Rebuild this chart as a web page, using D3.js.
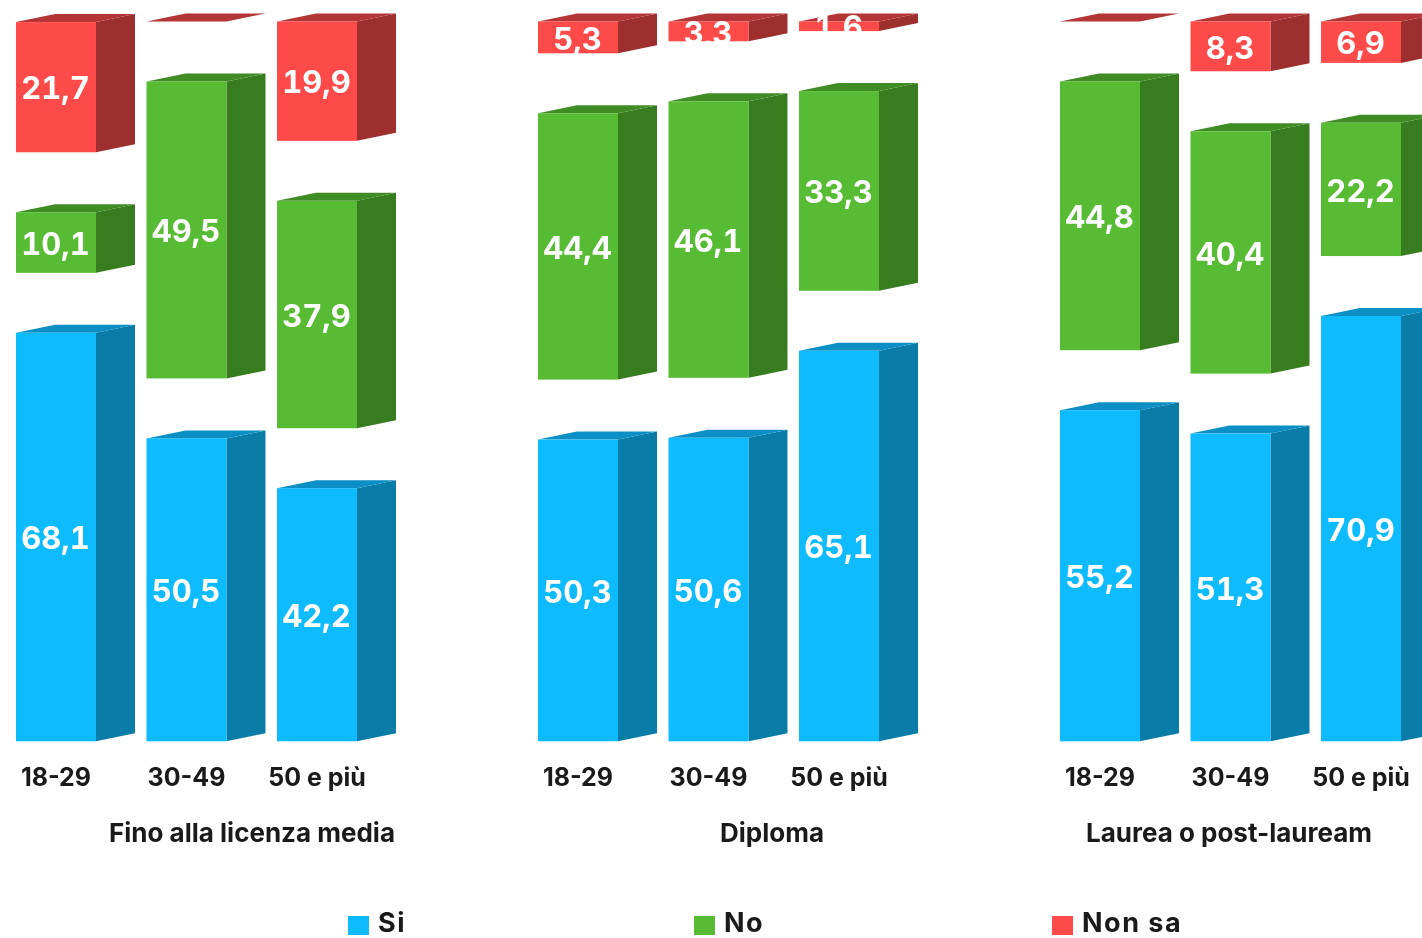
<!DOCTYPE html>
<html lang="it">
<head>
<meta charset="utf-8">
<title>Si, No, Non sa per istruzione ed età</title>
<script src="https://cdn.jsdelivr.net/npm/d3@7"></script>
<style>
html,body{margin:0;padding:0;background:#fff;overflow:hidden}
svg{display:block;filter:blur(.5px)}
text{font-family:Inter,"Noto Sans",sans-serif}
.value{font-variant-numeric:tabular-nums}
</style>
</head>
<body>
<svg id="chart" width="1422" height="938"></svg>
<script>
const educationGroups = ["Fino alla licenza media", "Diploma", "Laurea o post-lauream"];
const ageGroups = ["18-29", "30-49", "50 e più"];
const seriesNames = ["Si", "No", "Non sa"];
const siValues    = [68.1, 50.5, 42.2, 50.3, 50.6, 65.1, 55.2, 51.3, 70.9];
const noValues    = [10.1, 49.5, 37.9, 44.4, 46.1, 33.3, 44.8, 40.4, 22.2];
const nonSaValues = [21.7, 0, 19.9, 5.3, 3.3, 1.6, 0, 8.3, 6.9];
const spacerValue = 10;   // empty band the original stacks between segments
const axisMax = 120;

const W = 1422, H = 938;
const svg = d3.select("#chart");

// slots: three bars per group with one empty slot between groups
const slots = [];
educationGroups.forEach((g, gi) => {
  ageGroups.forEach(a => slots.push(g + "|" + a));
  if (gi < educationGroups.length - 1) slots.push("gap" + gi);
});
const x = d3.scaleBand().domain(slots).range([16, 1401]).paddingInner(0.387).paddingOuter(0);
const y = d3.scaleLinear().domain([0, axisMax]).range([741.3, 21.5]);

const rows = [];
educationGroups.forEach((g, gi) => ageGroups.forEach((a, ai) => {
  const i = gi * ageGroups.length + ai;
  rows.push({slot: g + "|" + a, Si: siValues[i], gapA: spacerValue, No: noValues[i], gapB: spacerValue, "Non sa": nonSaValues[i]});
}));
const stack = d3.stack().keys(["Si", "gapA", "No", "gapB", "Non sa"])(rows);

const palette = {
  "Si":     {front: "#0FBBFF", side: "#0A7CA8", top: "#0C8FC4"},
  "No":     {front: "#57BC33", side: "#387C20", top: "#3F8C25"},
  "Non sa": {front: "#FF4A4A", side: "#9E2F2F", top: "#B33535"}
};
const depthX = 39, depthY = 8;
const poly = pts => pts.map(p => p.join(",")).join(" ");

const bars = svg.append("g");
stack.filter(s => seriesNames.includes(s.key)).forEach(s => {
  const c = palette[s.key];
  const g = bars.append("g").selectAll("g").data(s).join("g");
  const L = d => x(d.data.slot), R = d => x(d.data.slot) + x.bandwidth();
  g.append("polygon").attr("fill", c.side).attr("points", d => poly([
    [R(d), y(d[1])], [R(d) + depthX, y(d[1]) - depthY], [R(d) + depthX, y(d[0]) - depthY], [R(d), y(d[0])]
  ]));
  g.append("polygon").attr("fill", c.top).attr("points", d => poly([
    [L(d), y(d[1])], [L(d) + depthX, y(d[1]) - depthY], [R(d) + depthX, y(d[1]) - depthY], [R(d), y(d[1])]
  ]));
  g.append("rect").attr("fill", c.front)
    .attr("x", d => L(d)).attr("y", d => y(d[1]))
    .attr("width", x.bandwidth()).attr("height", d => y(d[0]) - y(d[1]));
});

const labels = svg.append("g");
stack.filter(s => seriesNames.includes(s.key)).forEach(s => {
  labels.append("g").selectAll("text").data(s.filter(d => d[1] - d[0] > 0)).join("text")
    .attr("class", "value")
    .attr("x", d => x(d.data.slot) + x.bandwidth() / 2 - 0.5)
    .attr("y", d => (y(d[0]) + y(d[1])) / 2 + 1)
    .attr("dy", "0.36em")
    .attr("text-anchor", "middle")
    .attr("fill", "#fff")
    .attr("font-size", 31)
    .attr("font-weight", 700)
    .text(d => String(+(d[1] - d[0]).toFixed(1)).replace(".", ","));
});

// age axis
const axis = d3.axisBottom(x)
  .tickValues(slots.filter(k => k.includes("|")))
  .tickFormat(k => k.split("|")[1])
  .tickSize(0).tickPadding(27);
const ax = svg.append("g").attr("transform", "translate(0,741)").call(axis);
ax.select(".domain").remove();
ax.selectAll("text").attr("font-family", 'Inter,"Noto Sans",sans-serif').attr("font-size", 25).attr("font-weight", 700).attr("fill", "#1a1a1a");

// group titles
const titleX = [252, 772, 1229];
svg.append("g").selectAll("text").data(educationGroups).join("text")
  .attr("x", (d, i) => titleX[i]).attr("y", 842)
  .attr("text-anchor", "middle").attr("font-size", 26).attr("font-weight", 700).attr("fill", "#1a1a1a")
  .text(d => d);

// legend
const legendX = [348, 694, 1052];
const lg = svg.append("g").selectAll("g").data(seriesNames).join("g")
  .attr("transform", (d, i) => `translate(${legendX[i]},916)`);
lg.append("rect").attr("width", 21).attr("height", 19).attr("fill", d => palette[d].front);
lg.append("text").attr("x", 30).attr("y", 16).attr("font-size", 27).attr("font-weight", 700).attr("letter-spacing", 1.5).attr("fill", "#1a1a1a").text(d => d);
</script>
</body>
</html>
